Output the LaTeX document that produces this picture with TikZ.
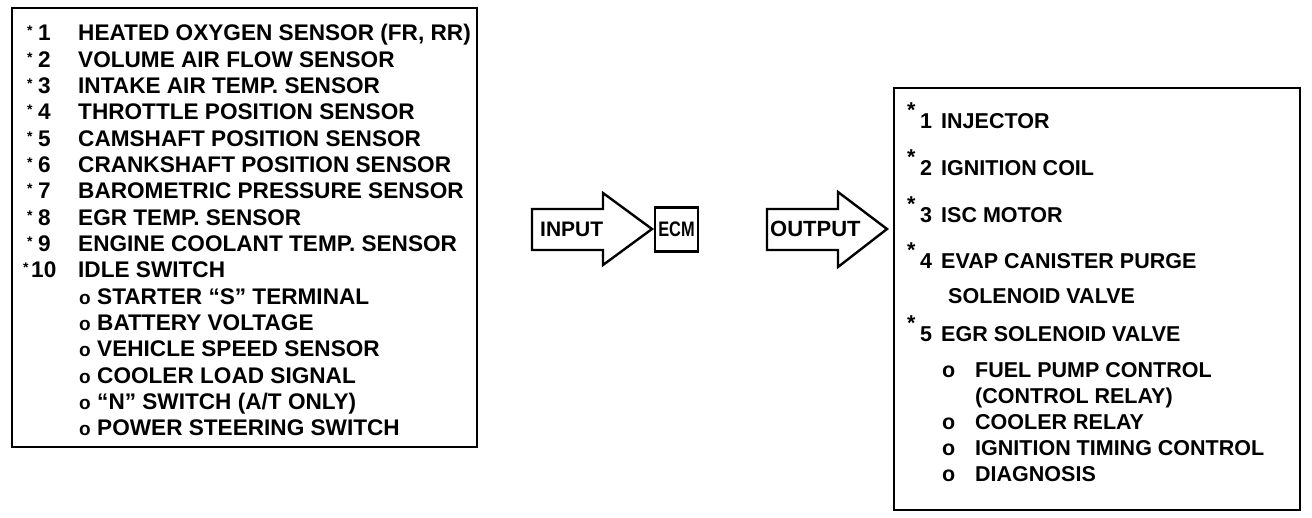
\documentclass[tikz,border=0pt]{standalone}
\usepackage{fontspec}
\setmainfont{Liberation Sans}
\begin{document}
\begin{tikzpicture}[x=1pt,y=-1pt,
  box/.style={line width=2.6pt},
  arr/.style={line width=2.4pt, line join=miter},
  txt/.style={anchor=base west, inner sep=0pt, font=\fontsize{22.6}{26}\selectfont\bfseries},
  bul/.style={anchor=base west, inner sep=0pt, font=\fontsize{19}{26}\selectfont\bfseries},
  lstar/.style={anchor=base west, inner sep=0pt, font=\fontsize{14}{14}\selectfont\bfseries},
  rtxt/.style={anchor=base west, inner sep=0pt, font=\fontsize{21.5}{26}\selectfont\bfseries},
  mid/.style={anchor=base west, inner sep=0pt, font=\fontsize{21}{24}\selectfont\bfseries}]
\useasboundingbox (0,0) rectangle (1312,518);
% left box
\draw[box] (12,8) rectangle (477,447);
\foreach \k/\n/\t in {0/1/{HEATED OXYGEN SENSOR (FR, RR)},1/2/VOLUME AIR FLOW SENSOR,2/3/INTAKE AIR TEMP. SENSOR,3/4/THROTTLE POSITION SENSOR,4/5/CAMSHAFT POSITION SENSOR,5/6/CRANKSHAFT POSITION SENSOR,6/7/BAROMETRIC PRESSURE SENSOR,7/8/EGR TEMP. SENSOR,8/9/ENGINE COOLANT TEMP. SENSOR}{
  \node[lstar] (ls\n) at (27,41+26.33*\k-5) {*};
  \node[txt] (ln\n) at (38,41+26.33*\k) {\n};
  \node[txt] (lt\n) at (78,41+26.33*\k) {\t};
}
\node[lstar] (ls10) at (23,41+26.33*9-5) {*};
\node[txt] (ln10) at (31,41+26.33*9) {10};
\node[txt] (lt10) at (78,41+26.33*9) {IDLE SWITCH};
\foreach \k/\t in {10/{STARTER ``S'' TERMINAL},11/BATTERY VOLTAGE,12/VEHICLE SPEED SENSOR,13/COOLER LOAD SIGNAL,14/{``N'' SWITCH (A/T ONLY)},15/POWER STEERING SWITCH}{
  \node[bul] (lo\k) at (79,41+26.33*\k) {o};
  \node[txt] (lt\k) at (97,41+26.33*\k) {\t};
}
% middle arrows
\draw[arr] (532,209) -- (603,209) -- (603,193) -- (652,229) -- (603,265) -- (603,250) -- (532,250) -- cycle;
\node[mid] (input) at (540,236.5) {INPUT};
\node[draw, line width=2.4pt, minimum width=43pt, minimum height=44pt, inner sep=0pt,
      font=\fontsize{21}{24}\selectfont\bfseries] (ecm) at (676.5,229.5) {\scalebox{0.78}[1]{ECM}};
\draw[arr] (767,209) -- (838,209) -- (838,192) -- (887,229) -- (838,267) -- (838,250) -- (767,250) -- cycle;
\node[mid, font=\fontsize{22}{24}\selectfont\bfseries] (output) at (770,237) {OUTPUT};
% right box
\draw[box] (894,88) rectangle (1300,510);
\foreach \n/\y/\t in {1/129/INJECTOR,2/176/IGNITION COIL,3/223/ISC MOTOR,4/269/EVAP CANISTER PURGE,5/342/EGR SOLENOID VALVE}{
  \node[rtxt] (rs\n) at (907,\y-11) {*};
  \node[rtxt] (rn\n) at (920,\y) {\n};
  \node[rtxt] (rt\n) at (941,\y) {\t};
}
\node[rtxt] (rt4b) at (948,304) {SOLENOID VALVE};
\foreach \i/\y/\t in {a/378/FUEL PUMP CONTROL,c/430/COOLER RELAY,d/455/IGNITION TIMING CONTROL,e/481/DIAGNOSIS}{
  \node[rtxt] (ro\i) at (942,\y) {o};
  \node[rtxt] (rx\i) at (975,\y) {\t};
}
\node[rtxt] (rxb) at (975,404) {(CONTROL RELAY)};
\end{tikzpicture}
\end{document}
